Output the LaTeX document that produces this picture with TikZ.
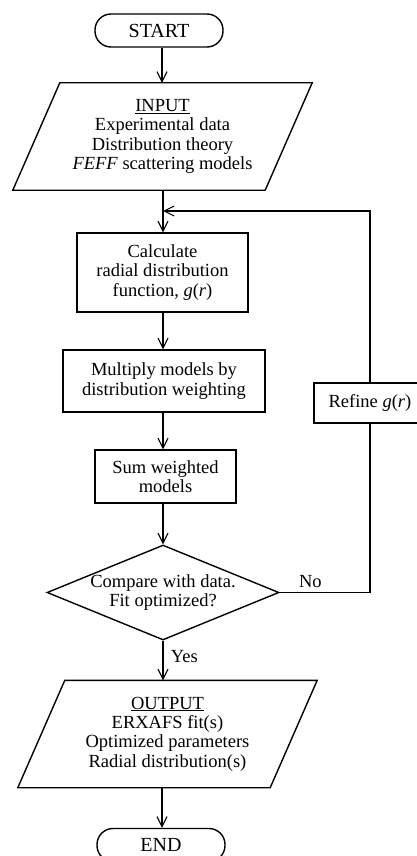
\documentclass[tikz,border=0pt]{standalone}
\usepackage{fontspec}
\setmainfont{Liberation Serif}
\usetikzlibrary{shapes.geometric,arrows.meta}

\tikzset{
  box/.style={draw, line width=1.4pt, align=center, inner sep=2pt},
  term/.style={box, rounded corners=16pt, minimum width=128, minimum height=33,
    font=\fontsize{20}{22}\selectfont},
  io/.style={align=center, inner sep=0pt, minimum width=299, minimum height=107},
  proc/.style={box},
  test/.style={draw, line width=1.4pt, diamond, inner sep=0pt, minimum width=232, minimum height=95},
  arr/.style={line width=1.1pt, -{Straight Barb[length=10pt,width=10pt,line width=1.1pt]}},
  line/.style={line width=1.1pt}
}

\begin{document}
\begin{tikzpicture}[x=1pt,y=-1pt,font=\fontsize{18.5}{19.4}\selectfont]

\useasboundingbox (0,0) rectangle (417,856);

\node[term] (start) at (159,30.5) {START};

\node[io] (input) at (162.5,136.5) {\underline{INPUT}\\Experimental data\\Distribution theory\\\textit{FEFF} scattering models};

\node[proc, minimum width=171, minimum height=79] (calc) at (162.5,272.5) {Calculate\\radial distribution\\function, \textit{g}(\textit{r})};

\node[proc, minimum width=202, minimum height=62] (mult) at (164,381) {Multiply models by\\distribution weighting};

\node[proc, minimum width=141, minimum height=53] (sum) at (165.5,476.5) {Sum weighted\\models};

\node[test, label={[align=center]center:Compare with data.\\Fit optimized?}] (check) at (163,592.5) {};

\node[io] (output) at (167.5,734) {\underline{OUTPUT}\\ERXAFS fit(s)\\Optimized parameters\\Radial distribution(s)};

\node[term] (end) at (161,845) {END};

\node[proc, minimum width=112, minimum height=40] (refine) at (370,403) {Refine \textit{g}(\textit{r})};

\coordinate (loopin) at (163,211);

% slanted input/output boxes
\foreach \n in {input,output}
  \draw[line width=1.4pt] ([xshift=47pt]\n.north west) -- (\n.north east)
    -- ([xshift=-47pt]\n.south east) -- (\n.south west) -- cycle;

% main flow
\draw[arr] (start.south -| 162,0) -- (162,0 |- input.north);
\draw[arr] (163,0 |- input.south) -- (163,0 |- calc.north);
\draw[arr] (163,0 |- calc.south) -- (163,0 |- mult.north);
\draw[arr] (163,0 |- mult.south) -- (163,0 |- sum.north);
\draw[arr] (163,0 |- sum.south) -- (check.north);
\draw[arr] (check.south) -- (check.south |- output.north) node[pos=0.4, right=4pt] {Yes};
\draw[arr] (162,0 |- output.south) -- (162,0 |- end.north);

% loop back
\draw[line] (check.east) -| (refine.south) node[pos=0.17, above=1pt] {No};
\draw[arr] (refine.north) |- (loopin);

\end{tikzpicture}
\end{document}
